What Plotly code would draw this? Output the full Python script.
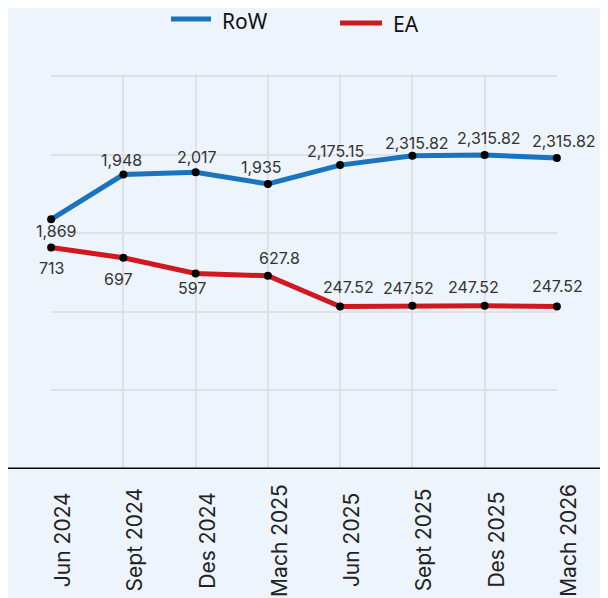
import plotly.graph_objects as go

# ---- data ----
categories = ["Jun 2024", "Sept 2024", "Des 2024", "Mach 2025",
              "Jun 2025", "Sept 2025", "Des 2025", "Mach 2026"]
# plotted heights (in chart units)
row_values = [3.18, 3.75, 3.78, 3.63, 3.87, 3.99, 4.00, 3.96]
ea_values = [2.82, 2.69, 2.49, 2.46, 2.07, 2.08, 2.08, 2.07]
# printed data labels
row_labels = ["1,869", "1,948", "2,017", "1,935", "2,175.15", "2,315.82", "2,315.82", "2,315.82"]
ea_labels = ["713", "697", "597", "627.8", "247.52", "247.52", "247.52", "247.52"]
series_names = ["RoW", "EA"]
y_ticks = [0, 1, 2, 3, 4, 5]

# ---- style ----
BLUE = "#1A73BE"
RED = "#D0191F"
BG = "#EDF4FB"
GRID = "#DFE1E4"
LABEL_FONT = dict(family="Inter, Lato, sans-serif", size=16, color="#333333")
TICK_FONT = dict(family="Inter, Lato, sans-serif", size=21, color="#222222")
LEGEND_FONT = dict(family="Noto Sans, Open Sans, sans-serif", size=21, color="#111111")
# label offsets from their points, in pixels (dx right, dy down)
row_off = [(5, 12), (-2, -15), (1, -15), (-6, -17), (-5, -14), (5, -13), (4, -17), (7, -17)]
ea_off = [(0, 20), (-5, 21), (-4, 15), (12, -18), (8, -19), (-4, -18), (-11, -19), (1, -20)]

ML, MT, PW, PH = 43, 66, 506, 395
W, H = 608, 598
YMAX = 5.03

fig = go.Figure()
series = [(series_names[0], row_values, row_labels, row_off, BLUE),
          (series_names[1], ea_values, ea_labels, ea_off, RED)]
for name, vals, labels, offs, color in series:
    fig.add_trace(go.Scatter(
        x=categories, y=vals, name=name, mode="lines+markers",
        line=dict(color=color, width=5),
        marker=dict(color="black", size=8),
        cliponaxis=False, showlegend=False,
    ))
    for c, v, t, (dx, dy) in zip(categories, vals, labels, offs):
        fig.add_annotation(x=c, y=v, text=t, showarrow=False, font=LABEL_FONT,
                           xanchor="center", yanchor="middle", xshift=dx, yshift=-dy)

# category labels, rotated and centred below the axis
for c in categories:
    fig.add_annotation(x=c, y=0, xref="x", yref="paper", text=c, textangle=-90,
                       showarrow=False, font=TICK_FONT, xanchor="center", yanchor="middle",
                       xshift=11, yshift=-71)

# legend (line swatch + name)
legend_px = [(163, 203, 11, 212, 13), (332, 374, 15, 383, 16)]
for (name, vals, labels, offs, color), (sx0, sx1, sy, tx, ty) in zip(series, legend_px):
    fig.add_shape(type="line", xref="paper", yref="paper",
                  x0=(sx0 - ML) / PW, x1=(sx1 - ML) / PW,
                  y0=1 + (MT - sy) / PH, y1=1 + (MT - sy) / PH,
                  line=dict(color=color, width=5))
    fig.add_annotation(x=(tx - ML) / PW, y=1 + (MT - ty) / PH, xref="paper", yref="paper",
                       text=name, showarrow=False, font=LEGEND_FONT,
                       xanchor="left", yanchor="middle")

fig.update_layout(
    width=W, height=H,
    margin=dict(l=ML, r=W - ML - PW, t=MT, b=H - MT - PH, autoexpand=False),
    paper_bgcolor=BG, plot_bgcolor=BG,
    showlegend=False,
    xaxis=dict(
        type="category", range=[-0.002, 7.002], showgrid=True, gridcolor=GRID, gridwidth=2,
        showline=False, zeroline=False, ticks="", automargin=False, showticklabels=False,
    ),
    yaxis=dict(
        range=[0, YMAX], tickvals=y_ticks, showticklabels=False, showgrid=True,
        gridcolor=GRID, gridwidth=2, zeroline=False, showline=False, automargin=False,
    ),
)

# baseline axis line extending across the full width
fig.add_shape(type="line", xref="paper", yref="y", x0=-ML / PW, x1=1.25, y0=0, y1=0,
              line=dict(color="black", width=3), layer="above")

fig.write_html("out.html")
